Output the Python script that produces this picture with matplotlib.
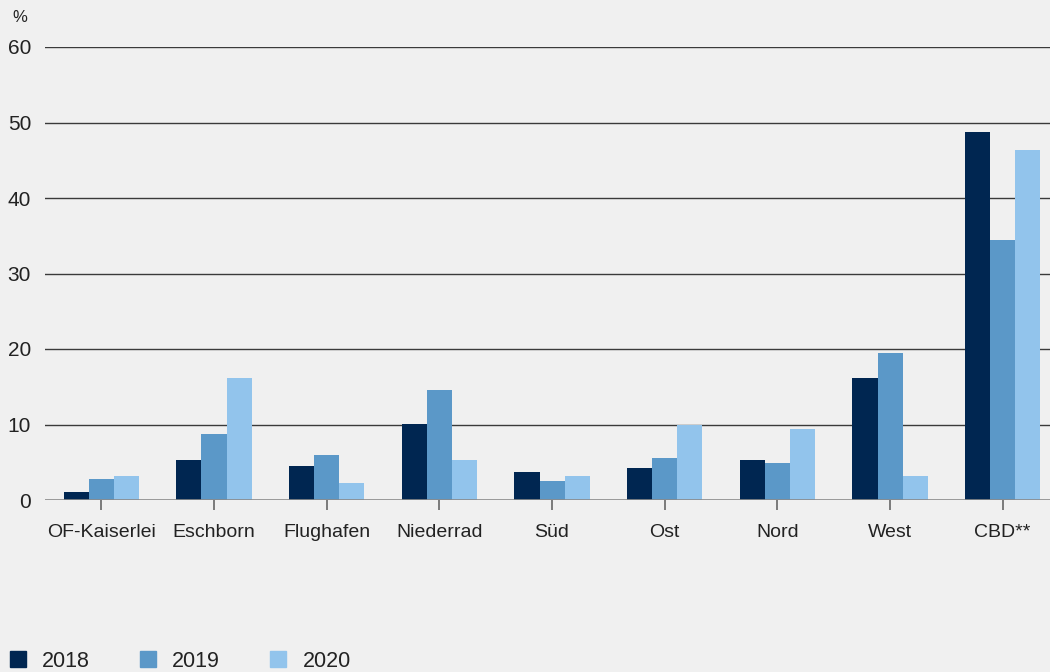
import numpy as np
import matplotlib
matplotlib.use("Agg")
import matplotlib.pyplot as plt
from matplotlib.lines import Line2D

plt.rcParams['font.family'] = ['Liberation Sans', 'DejaVu Sans']

# data
districts = ["OF-Kaiserlei", "Eschborn", "Flughafen", "Niederrad", "Süd",
             "Ost", "Nord", "West", "CBD**"]
years = ["2018", "2019", "2020"]
v2018 = [1.0, 5.3, 4.5, 10.1, 3.75, 4.3, 5.25, 16.1, 48.8]
v2019 = [2.8, 8.8, 6.0, 14.6, 2.55, 5.6, 4.85, 19.5, 34.5]
v2020 = [3.2, 16.2, 2.3, 5.3, 3.2, 10.0, 9.35, 3.2, 46.4]
colors = ["#002651", "#5b98c8", "#92c4ec"]

bg = "#f0f0f0"
fig = plt.figure(figsize=(10.5, 6.72), dpi=100, facecolor=bg)
ax = fig.add_axes([45/1050, 1-500/672, 1005/1050, 453/672], facecolor=bg)

x = np.arange(len(districts))
w = 0.222
for i, (vals, c) in enumerate(zip([v2018, v2019, v2020], colors)):
    ax.bar(x + (i - 1) * w, vals, width=w, color=c, zorder=2, label=years[i])

# gridlines
for yv in range(10, 61, 10):
    ax.axhline(yv, color="#3a3a3a", lw=1.0, zorder=1)
ax.axhline(0, color="#8a8a8a", lw=1.2, zorder=3)

ax.set_xlim(-0.5, 8.42)
ax.set_ylim(0, 60)
ax.set_yticks(range(0, 61, 10))
ax.set_xticks(x)
ax.set_xticklabels(districts, fontsize=14, color="#222222")
ax.tick_params(axis='y', length=0, pad=10, labelsize=15, labelcolor="#222222")
ax.tick_params(axis='x', length=7, width=1.2, color="#666666", pad=10)
for s in ax.spines.values():
    s.set_visible(False)

fig.text(12/1050, 1-17/672, "%", fontsize=12, color="#222222", va="center")

handles = [Line2D([], [], ls="none", marker="s", markersize=11.5,
                  markerfacecolor=c, markeredgecolor=c) for c in colors]
fig.legend(handles, years, loc="lower left", bbox_to_anchor=(8/1050, 0.0),
           ncol=3, frameon=False, fontsize=15.5, handlelength=0.9,
           handletextpad=0.68, columnspacing=2.25, borderpad=0,
           borderaxespad=0, labelcolor="#222222")

fig.savefig("out.png", dpi=100, facecolor=bg)
